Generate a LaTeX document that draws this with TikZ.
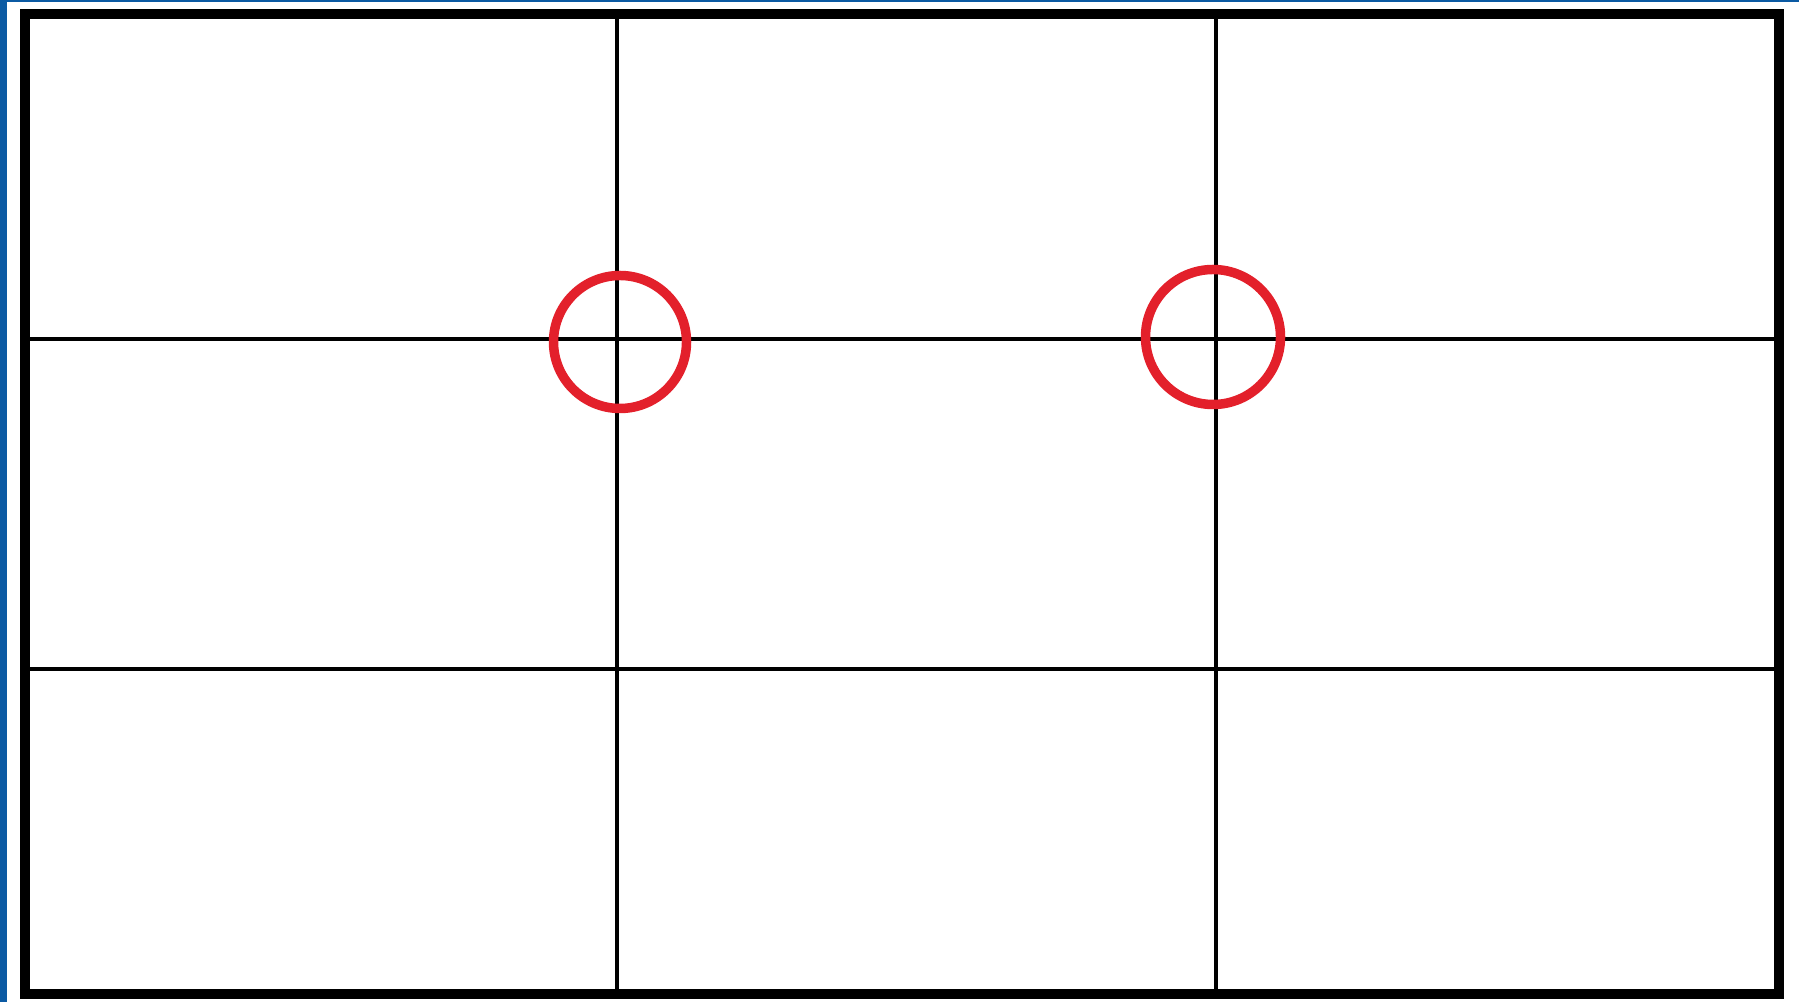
\documentclass[tikz,border=0pt]{standalone}
\usepackage{tikz}
\usetikzlibrary{calc}
\usepackage{xcolor}
\definecolor{frameblue}{HTML}{0B5AA3}
\definecolor{markred}{HTML}{E3202B}

\begin{document}
\begin{tikzpicture}[
  gridline/.style={black, line width=1.3pt},
  ringmark/.style={draw=markred, line width=2.7pt}
]
  \useasboundingbox (0,0) rectangle (17.99,10.02);

  % Blue slide edge
  \fill[frameblue] (0,0) rectangle (0.07,10.02);
  \fill[frameblue] (0,10.00) rectangle (17.99,10.02);

  \coordinate (SW) at (0.25,0.08);
  \coordinate (NE) at (17.79,9.88);

  % Thirds
  \draw[gridline] (6.17,0.08) -- (6.17,9.88);
  \draw[gridline] (12.16,0.08) -- (12.16,9.88);
  \draw[gridline] (0.25,6.63) -- (17.79,6.63);
  \draw[gridline] (0.25,3.33) -- (17.79,3.33);

  % Frame
  \draw[black, line width=2.8pt] (SW) rectangle (NE);

  % Power points
  \coordinate (P1) at (6.20,6.60);
  \coordinate (P2) at (12.13,6.65);
  \draw[ringmark] (P1) circle (0.665);
  \draw[ringmark] (P2) circle (0.675);
\end{tikzpicture}
\end{document}
